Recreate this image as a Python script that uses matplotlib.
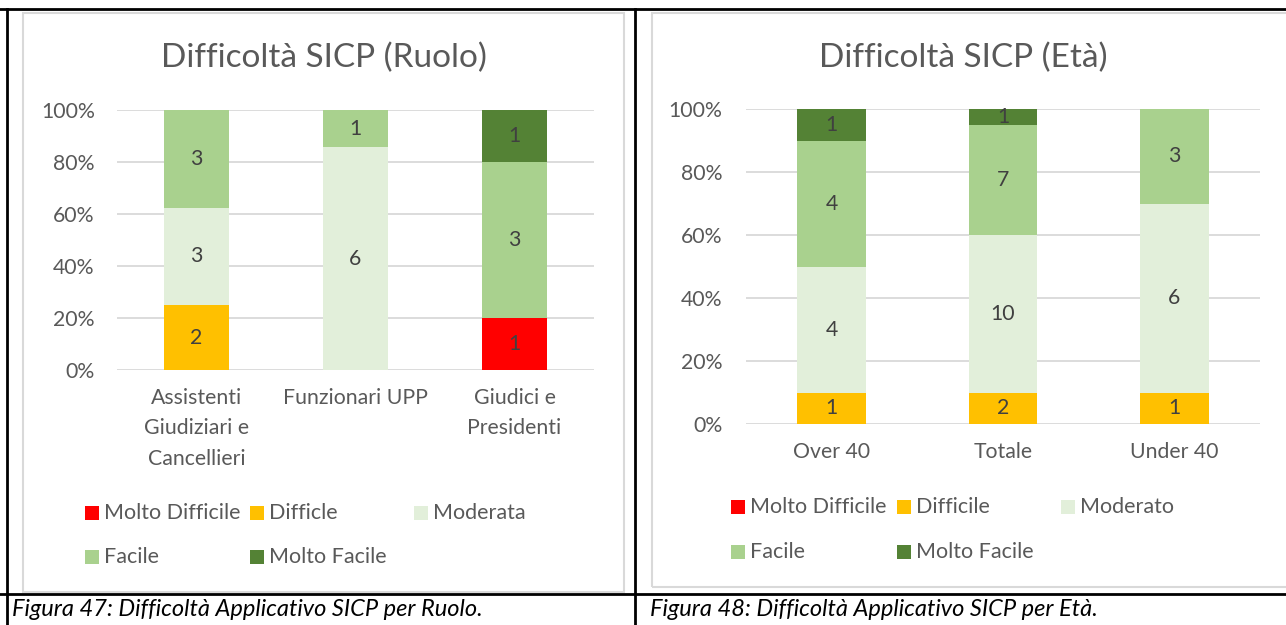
import matplotlib
matplotlib.use("Agg")
import matplotlib.pyplot as plt
from matplotlib.patches import Rectangle
from matplotlib.lines import Line2D
from matplotlib.ticker import PercentFormatter
import numpy as np

plt.rcParams['font.family'] = ['Lato', 'DejaVu Sans']

W, H = 1286, 625
GREY_TXT = '#595959'
GRID = '#D9D9D9'

# dati
colori = ["#FF0000", "#FFC000", "#E2EFDA", "#A9D18E", "#548235"]

livelli_ruolo = ["Molto Difficile", "Difficle", "Moderata", "Facile", "Molto Facile"]
ruoli = ["Assistenti\nGiudiziari e\nCancellieri", "Funzionari UPP", "Giudici e\nPresidenti"]
ruolo_molto_difficile = [0, 0, 1]
ruolo_difficile = [2, 0, 0]
ruolo_moderata = [3, 6, 0]
ruolo_facile = [3, 1, 3]
ruolo_molto_facile = [0, 0, 1]

livelli_eta = ["Molto Difficile", "Difficile", "Moderato", "Facile", "Molto Facile"]
eta = ["Over 40", "Totale", "Under 40"]
eta_molto_difficile = [0, 0, 0]
eta_difficile = [1, 2, 1]
eta_moderato = [4, 10, 6]
eta_facile = [4, 7, 3]
eta_molto_facile = [1, 1, 0]

FS = 15.3


def fx(x):
    return x / W


def fy(y):
    return 1 - y / H


def axes_px(fig, x0, y0, x1, y1):
    return fig.add_axes([fx(x0), fy(y1), (x1 - x0) / W, (y1 - y0) / H])


def stacked_pct(ax, cats, series, bar_w, ypad, xpad):
    counts = np.array(series, dtype=float)
    pct = counts / counts.sum(axis=0)
    x = np.arange(len(cats))
    bottom = np.zeros(len(cats))
    for i in range(len(series)):
        ax.bar(x, pct[i], bar_w, bottom=bottom, color=colori[i], lw=0, zorder=2)
        for j in range(len(cats)):
            if counts[i, j] > 0:
                ax.text(x[j], bottom[j] + pct[i, j] / 2, str(int(counts[i, j])),
                        ha='center', va='center', fontsize=FS, color='#404040', zorder=3)
        bottom += pct[i]
    ax.set_xlim(-0.5, len(cats) - 0.5)
    ax.set_ylim(0, 1)
    ax.set_yticks(np.arange(0, 1.01, 0.2))
    ax.yaxis.set_major_formatter(PercentFormatter(1.0, decimals=0))
    ax.set_xticks(x)
    ax.set_xticklabels(cats, linespacing=1.64)
    ax.grid(axis='y', color=GRID, lw=1.3, zorder=1)
    ax.set_axisbelow(True)
    for s in ax.spines.values():
        s.set_visible(False)
    ax.tick_params(axis='y', length=0, colors=GREY_TXT, labelsize=FS, pad=ypad)
    ax.tick_params(axis='x', length=0, colors=GREY_TXT, labelsize=FS, pad=xpad)


def legenda(fig, labels, col_xs, row_ys):
    for k, lab in enumerate(labels):
        r, c = divmod(k, 3)
        x, y = col_xs[c], row_ys[r]
        fig.patches.append(Rectangle((fx(x), fy(y + 7)), 14 / W, 14 / H,
                                     transform=fig.transFigure, color=colori[k], lw=0))
        fig.text(fx(x + 19), fy(y), lab, ha='left', va='center', fontsize=15.5, color=GREY_TXT)


fig = plt.figure(figsize=(W / 100, H / 100), dpi=100)
fig.patch.set_facecolor('white')

# cornici dei grafici
fig.patches.append(Rectangle((fx(23), fy(592)), (624 - 23) / W, (592 - 12.5) / H,
                             transform=fig.transFigure, fill=False, edgecolor=GRID, lw=1.5))
fig.patches.append(Rectangle((fx(652), fy(587)), (1300 - 652) / W, (587 - 12.5) / H,
                             transform=fig.transFigure, fill=False, edgecolor=GRID, lw=1.5))

# grafico ruolo
ax1 = axes_px(fig, 117, 110, 594, 370)
stacked_pct(ax1, ruoli, [ruolo_molto_difficile, ruolo_difficile, ruolo_moderata,
                         ruolo_facile, ruolo_molto_facile], 0.41, 16, 13)
fig.text(fx(324), fy(58), "Difficoltà SICP (Ruolo)", ha='center', va='center',
         fontsize=24, color=GREY_TXT)
legenda(fig, livelli_ruolo, [85, 250, 414], [513, 557])

# grafico eta
ax2 = axes_px(fig, 746, 109, 1260, 424)
stacked_pct(ax2, eta, [eta_molto_difficile, eta_difficile, eta_moderato,
                       eta_facile, eta_molto_facile], 0.40, 17, 13)
fig.text(fx(963), fy(58), "Difficoltà SICP (Età)", ha='center', va='center',
         fontsize=24, color=GREY_TXT)
legenda(fig, livelli_eta, [731, 897, 1061], [507, 552])

# bordi tabella
for xs, ys in [([0, 1290], [9, 9]), ([7, 7], [9, 625]), ([635, 635], [9, 625]),
               ([0, 1290], [594, 594])]:
    fig.add_artist(Line2D([fx(v) for v in xs], [fy(v) for v in ys],
                          transform=fig.transFigure, color='black', lw=2))

fig.text(fx(12), fy(610), "Figura 47: Difficoltà Applicativo SICP per Ruolo.",
         ha='left', va='center', fontsize=17, style='italic', color='black')
fig.text(fx(650), fy(610), "Figura 48: Difficoltà Applicativo SICP per Età.",
         ha='left', va='center', fontsize=17, style='italic', color='black')

fig.savefig('out.png', dpi=100)
